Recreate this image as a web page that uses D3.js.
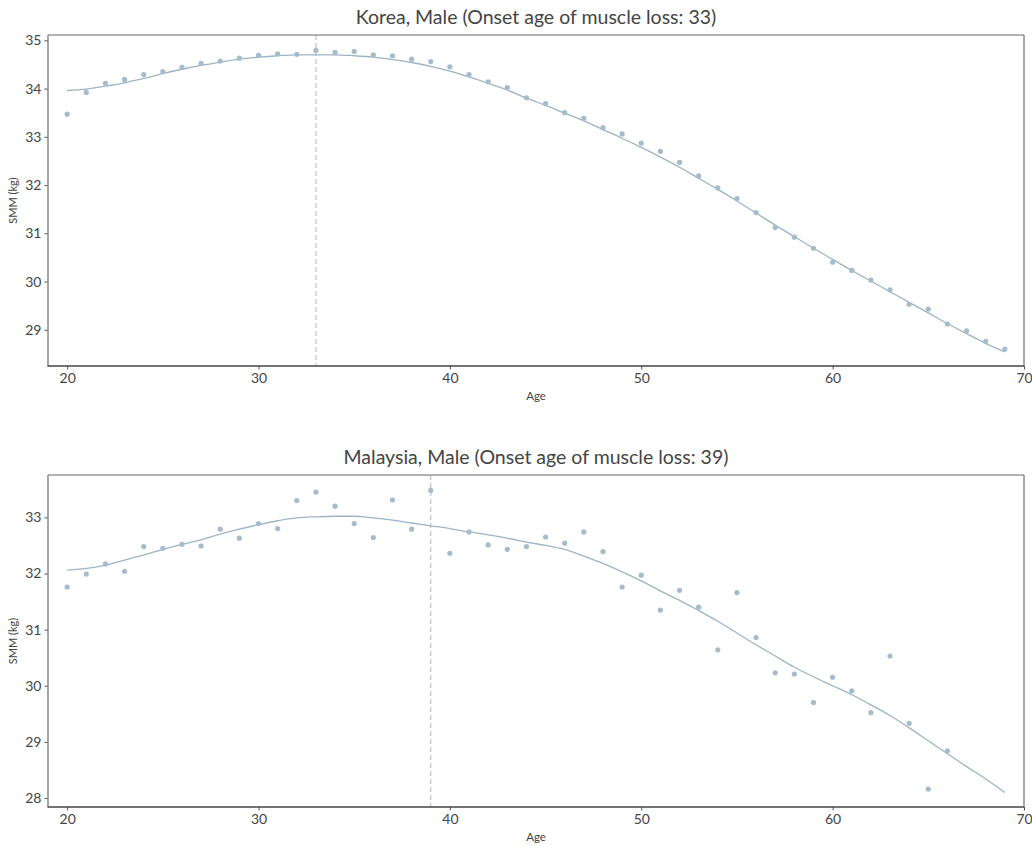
<!DOCTYPE html>
<html>
<head>
<meta charset="utf-8">
<script src="https://cdn.jsdelivr.net/npm/d3@7"></script>
<style>
  html, body { margin: 0; padding: 0; background: #fff; }
  svg { display: block; font-family: "Lato", "Open Sans", sans-serif; }
</style>
</head>
<body>
<svg id="chart" width="1032" height="846"></svg>
<script>
// ---------- data ----------
const ages = d3.range(20, 70); // 20..69
const xTicks = [20, 30, 40, 50, 60, 70];

const koreaTitle = "Korea, Male (Onset age of muscle loss: 33)";
const koreaOnset = 33;
const koreaTicks = [29, 30, 31, 32, 33, 34, 35];
const koreaSMM = [33.47, 33.92, 34.11, 34.19, 34.29, 34.35, 34.44, 34.52, 34.57, 34.63,
  34.69, 34.72, 34.71, 34.79, 34.75, 34.77, 34.70, 34.68, 34.61, 34.56,
  34.45, 34.29, 34.14, 34.02, 33.81, 33.69, 33.50, 33.38, 33.19, 33.06,
  32.87, 32.70, 32.47, 32.19, 31.94, 31.72, 31.43, 31.12, 30.92, 30.69,
  30.40, 30.23, 30.03, 29.83, 29.53, 29.43, 29.12, 28.98, 28.76, 28.60];
const koreaFit = [33.96, 33.99, 34.05, 34.12, 34.21, 34.31, 34.40, 34.48, 34.55, 34.61,
  34.65, 34.68, 34.70, 34.70, 34.70, 34.68, 34.65, 34.60, 34.54, 34.46,
  34.36, 34.24, 34.11, 33.97, 33.80, 33.65, 33.49, 33.33, 33.15, 32.97,
  32.78, 32.58, 32.37, 32.14, 31.91, 31.67, 31.42, 31.17, 30.93, 30.69,
  30.46, 30.23, 30.01, 29.79, 29.57, 29.35, 29.13, 28.92, 28.72, 28.54];

const malaysiaTitle = "Malaysia, Male (Onset age of muscle loss: 39)";
const malaysiaOnset = 39;
const malaysiaTicks = [28, 29, 30, 31, 32, 33];
const malaysiaSMM = [31.76, 31.99, 32.17, 32.04, 32.48, 32.45, 32.52, 32.49, 32.79, 32.63,
  32.89, 32.80, 33.30, 33.45, 33.20, 32.89, 32.64, 33.31, 32.79, 33.48,
  32.36, 32.74, 32.51, 32.43, 32.48, 32.65, 32.54, 32.74, 32.39, 31.76,
  31.97, 31.35, 31.70, 31.40, 30.64, 31.66, 30.86, 30.23, 30.21, 29.70,
  30.15, 29.91, 29.52, 30.53, 29.33, 28.16, 28.84, null, null, null];
const malaysiaFit = [32.06, 32.09, 32.15, 32.24, 32.33, 32.43, 32.52, 32.60, 32.70, 32.79,
  32.87, 32.94, 32.99, 33.01, 33.02, 33.02, 32.99, 32.95, 32.90, 32.85,
  32.80, 32.74, 32.69, 32.63, 32.56, 32.50, 32.43, 32.31, 32.18, 32.03,
  31.87, 31.69, 31.52, 31.34, 31.15, 30.94, 30.73, 30.53, 30.33, 30.16,
  30.00, 29.84, 29.66, 29.47, 29.25, 29.02, 28.79, 28.56, 28.34, 28.10];

// ---------- styling ----------
const pointColor = "#a7bccb";
const lineColor = "#9db4c4";
const onsetColor = "#b7c4dd";
const textColor = "#444";

const svg = d3.select("#chart");

const panels = [
  { title: koreaTitle, onset: koreaOnset, smm: koreaSMM, fit: koreaFit, yTicks: koreaTicks,
    top: 35, bottom: 366, yDomain: [28.25, 35.11] },
  { title: malaysiaTitle, onset: malaysiaOnset, smm: malaysiaSMM, fit: malaysiaFit, yTicks: malaysiaTicks,
    top: 475, bottom: 807, yDomain: [27.84, 33.755] }
];

const left = 48, right = 1024;

panels.forEach(p => {
  const x = d3.scaleLinear().domain([19.0, 70]).range([left, right]);
  const y = d3.scaleLinear().domain(p.yDomain).range([p.bottom, p.top]);
  const g = svg.append("g");

  // onset line
  g.append("line")
    .attr("x1", x(p.onset)).attr("x2", x(p.onset))
    .attr("y1", p.top).attr("y2", p.bottom)
    .attr("stroke", onsetColor).attr("stroke-width", 1.2)
    .attr("stroke-dasharray", "5,3");

  // fitted line
  const line = d3.line().x((d, i) => x(ages[i])).y(d => y(d)).curve(d3.curveMonotoneX);
  g.append("path").datum(p.fit)
    .attr("d", line)
    .attr("fill", "none").attr("stroke", lineColor).attr("stroke-width", 1.3);

  // points
  g.selectAll("circle.pt")
    .data(p.smm.map((v, i) => ({ age: ages[i], v })).filter(d => d.v != null))
    .join("circle")
    .attr("class", "pt")
    .attr("cx", d => x(d.age)).attr("cy", d => y(d.v))
    .attr("r", 2.6).attr("fill", pointColor);

  // axes
  const xAxis = g.append("g").attr("transform", `translate(0,${p.bottom})`)
    .call(d3.axisBottom(x).tickValues(xTicks).tickFormat(d3.format("d")).tickSize(3.5).tickPadding(4));
  const yAxis = g.append("g").attr("transform", `translate(${left},0)`)
    .call(d3.axisLeft(y).tickValues(p.yTicks).tickFormat(d3.format("d")).tickSize(3.5).tickPadding(3));
  [xAxis, yAxis].forEach(a => {
    a.select(".domain").remove();
    a.selectAll(".tick line").attr("stroke", "#555");
    a.selectAll(".tick text").attr("fill", textColor).style("font-size", "14px")
      .style("font-family", "Lato, sans-serif");
  });

  // spines
  g.append("line").attr("x1", left).attr("x2", right).attr("y1", p.top).attr("y2", p.top)
    .attr("stroke", "#666").attr("stroke-width", 1);
  g.append("line").attr("x1", right).attr("x2", right).attr("y1", p.top).attr("y2", p.bottom)
    .attr("stroke", "#555").attr("stroke-width", 1);
  g.append("line").attr("x1", left).attr("x2", left).attr("y1", p.top).attr("y2", p.bottom)
    .attr("stroke", "#888").attr("stroke-width", 1.5);
  g.append("line").attr("x1", left - 0.5).attr("x2", right).attr("y1", p.bottom).attr("y2", p.bottom)
    .attr("stroke", "#444").attr("stroke-width", 1.3);

  // title
  g.append("text")
    .attr("x", (left + right) / 2).attr("y", p.top - 11)
    .attr("text-anchor", "middle")
    .attr("fill", textColor)
    .style("font-size", "19.5px")
    .text(p.title);

  // axis labels
  g.append("text")
    .attr("x", (left + right) / 2).attr("y", p.bottom + 34)
    .attr("text-anchor", "middle").attr("fill", textColor)
    .style("font-size", "11.5px").text("Age");
  g.append("text")
    .attr("transform", `translate(17,${(p.top + p.bottom) / 2}) rotate(-90)`)
    .attr("text-anchor", "middle").attr("fill", textColor)
    .style("font-size", "11px").text("SMM (kg)");
});
</script>
</body>
</html>
